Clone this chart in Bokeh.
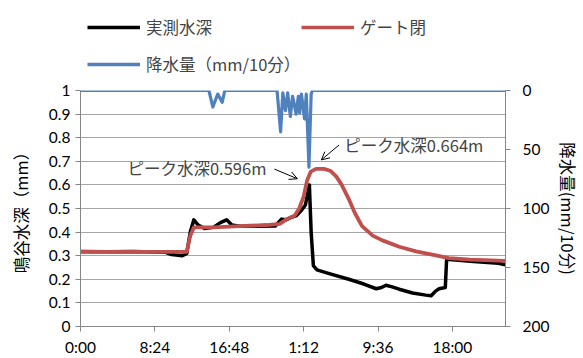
from bokeh.plotting import figure
from bokeh.layouts import column
from bokeh.models import (Range1d, LinearAxis, FixedTicker, Legend, LegendItem,
                          Label, Arrow, OpenHead)
from bokeh.embed import file_html
from bokeh.resources import INLINE

# ---- data (hours since 0:00 of day 1) ----
tick_hours = [0, 8.4, 16.8, 25.2, 33.6, 42.0]
tick_labels = ["0:00", "8:24", "16:48", "1:12", "9:36", "18:00"]

depth_t = [0, 3, 6, 9.5, 10.3, 11.5, 12.0, 12.4, 12.8, 13.3, 14.0, 15.0, 15.8, 16.5, 17.1,
           18.0, 20.0, 22.0, 22.7, 23.2, 23.8, 24.4, 24.9, 25.4, 25.85, 26.05, 26.3, 26.7,
           28.0, 30.3, 32.0, 33.4, 34.0, 34.5, 35.2, 36.0, 37.5, 39.0, 39.6, 40.1, 40.5,
           41.2, 41.35, 44.0, 47.2, 48.0]
depth_v = [0.318, 0.317, 0.318, 0.315, 0.305, 0.300, 0.310, 0.400, 0.452, 0.430, 0.415,
           0.420, 0.440, 0.452, 0.430, 0.425, 0.425, 0.426, 0.455, 0.452, 0.462, 0.470,
           0.490, 0.515, 0.600, 0.400, 0.258, 0.240, 0.225, 0.200, 0.180, 0.160, 0.165,
           0.175, 0.168, 0.158, 0.142, 0.133, 0.130, 0.150, 0.160, 0.165, 0.285, 0.276,
           0.268, 0.262]

gate_t = [0, 12.0, 12.4, 12.8, 15.0, 18.0, 21.0, 22.5, 23.3, 24.2, 24.7, 25.2, 25.6,
          26.0, 26.6, 27.5, 28.2, 28.9, 29.5, 30.3, 31.0, 31.8, 33.0, 34.1, 36.0, 37.9,
          40.0, 41.6, 44.0, 47.2, 48.0]
gate_v = [0.316, 0.316, 0.385, 0.420, 0.420, 0.425, 0.430, 0.435, 0.455, 0.470, 0.500,
          0.550, 0.620, 0.656, 0.668, 0.668, 0.660, 0.635, 0.600, 0.540, 0.480, 0.425,
          0.385, 0.365, 0.338, 0.318, 0.302, 0.290, 0.283, 0.279, 0.278]

rain_t = [0, 14.5, 14.95, 15.5, 16.0, 16.3, 22.2, 22.6, 22.85, 23.15, 23.4, 23.7, 23.95,
          24.1, 24.35, 24.6, 24.75, 24.95, 25.3, 25.5, 25.8, 26.05, 26.2, 48.0]
rain_v = [0, 0, 14, 3, 10, 0, 0, 35, 2, 17, 2, 22, 5, 10, 20, 5, 19, 3, 24, 3, 65, 3, 0, 0]

series_names = ["実測水深", "ゲート閉", "降水量（mm/10分）"]
series_colors = ["#000000", "#C0504D", "#4F81BD"]

JP = "Noto Sans CJK JP"
NUM = "Lato"
GRID = "#A6A6A6"
AXIS = "#868686"
FS = "15.5px"
FS_JP = "16.5px"
BL, BR = 80, 76

# ---------------- main chart ----------------
p = figure(width=583, height=278, output_backend="svg", toolbar_location=None,
           x_range=Range1d(0, 48), y_range=Range1d(0, 1),
           min_border_left=BL, min_border_right=BR, min_border_top=10, min_border_bottom=30)
p.outline_line_color = None
p.background_fill_color = "white"
p.border_fill_color = "white"
p.extra_y_ranges = {"rain": Range1d(200, 0)}

p.xaxis.ticker = FixedTicker(ticks=tick_hours)
p.xaxis.major_label_overrides = {t: l for t, l in zip(tick_hours, tick_labels)}
p.yaxis.ticker = FixedTicker(ticks=[i / 10 for i in range(11)])
p.yaxis.major_label_overrides = {i / 10: ("0" if i == 0 else "1" if i == 10 else f"0.{i}") for i in range(11)}
p.yaxis.axis_label = "鳴谷水深（mm）"

right = LinearAxis(y_range_name="rain", ticker=FixedTicker(ticks=[0, 50, 100, 150, 200]),
                   axis_label="降水量(mm/10分)")
p.add_layout(right, "right")

for ax in [p.xaxis[0], p.yaxis[0], right]:
    ax.axis_line_color = AXIS
    ax.major_tick_line_color = AXIS
    ax.minor_tick_line_color = None
    ax.major_tick_out = 5
    ax.major_tick_in = 0
    ax.major_label_text_font = NUM
    ax.major_label_text_font_size = FS
    ax.major_label_text_color = "#000000"
    ax.axis_label_text_font = JP
    ax.axis_label_text_font_size = FS_JP
    ax.axis_label_text_font_style = "normal"
    ax.axis_label_text_color = "#000000"

p.xaxis.major_label_standoff = 6
p.yaxis.major_label_standoff = 5
p.yaxis.axis_label_standoff = 13
right.major_label_standoff = 12
right.axis_label_standoff = 4

p.xgrid.grid_line_color = None
p.ygrid.grid_line_color = GRID
p.ygrid.grid_line_width = 1

p.line(depth_t, depth_v, line_color=series_colors[0], line_width=3.5,
       line_join="round", line_cap="round")
p.line(gate_t, gate_v, line_color=series_colors[1], line_width=3.8,
       line_join="round", line_cap="round")
p.line(rain_t, rain_v, y_range_name="rain", line_color=series_colors[2], line_width=3.2,
       line_join="round", line_cap="round")

p.add_layout(Label(x=21.0, y=0.671, text="ピーク水深0.596m", text_align="right",
                   text_baseline="middle", text_font=JP, text_font_size="16.5px"))
p.add_layout(Label(x=29.8, y=0.769, text="ピーク水深0.664m", text_align="left",
                   text_baseline="middle", text_font=JP, text_font_size="16.5px"))
p.add_layout(Arrow(end=OpenHead(size=8, line_width=1, line_color="black"),
                   x_start=21.9, y_start=0.667, x_end=24.5, y_end=0.626,
                   line_width=1, line_color="black"))
p.add_layout(Arrow(end=OpenHead(size=8, line_width=1, line_color="black"),
                   x_start=29.2, y_start=0.769, x_end=27.2, y_end=0.706,
                   line_width=1, line_color="black"))

# ---------------- legend strip above the chart ----------------
leg = figure(width=583, height=80, output_backend="svg", toolbar_location=None,
             x_range=Range1d(0, 1), y_range=Range1d(0, 1),
             x_axis_type=None, y_axis_type=None,
             min_border_left=BL, min_border_right=BR, min_border_top=0, min_border_bottom=0)
leg.outline_line_color = None
leg.xgrid.grid_line_color = None
leg.ygrid.grid_line_color = None
# off-screen samples: only their legend swatches are visible
dummies = [leg.line([-5, -4], [-5, -4], line_color=c, line_width=3.5) for c in series_colors]

legend_spots = [(7, 41), (221, 41), (7, 4)]
for name, r, loc in zip(series_names, dummies, legend_spots):
    leg.add_layout(Legend(items=[LegendItem(label=name, renderers=[r])],
                          location=loc, orientation="horizontal",
                          glyph_width=53, glyph_height=18, label_height=18,
                          label_standoff=6, padding=0, margin=0, spacing=0,
                          label_text_font=JP, label_text_font_size=FS_JP,
                          background_fill_alpha=0, border_line_color=None))

layout = column(leg, p, spacing=0)
open("out.html", "w").write(file_html(layout, INLINE))
